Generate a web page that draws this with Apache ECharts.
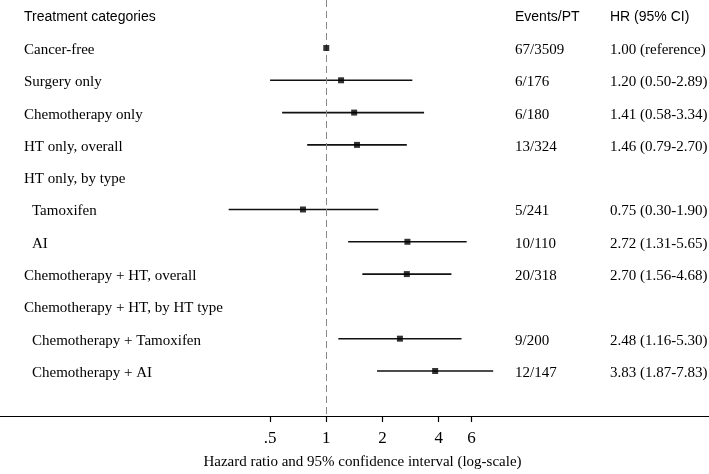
<!DOCTYPE html>
<html>
<head>
<meta charset="utf-8">
<script src="https://cdn.jsdelivr.net/npm/echarts@6/dist/echarts.min.js"></script>
<style>
  html, body { margin: 0; padding: 0; background: #fff; }
  #forest { width: 709px; height: 474px; }
</style>
</head>
<body>
<div id="forest"></div>
<script>
// rows of the forest plot (row 0 is the header)
var categories = ['Cancer-free', 'Surgery only', 'Chemotherapy only', 'HT only, overall',
    'HT only, by type', 'Tamoxifen', 'AI', 'Chemotherapy + HT, overall',
    'Chemotherapy + HT, by HT type', 'Chemotherapy + Tamoxifen', 'Chemotherapy + AI'];
var indented = [false, false, false, false, false, true, true, false, false, true, true];
var events = ['67/3509', '6/176', '6/180', '13/324', '', '5/241', '10/110', '20/318', '', '9/200', '12/147'];
var hrText = ['1.00 (reference)', '1.20 (0.50-2.89)', '1.41 (0.58-3.34)', '1.46 (0.79-2.70)', '',
    '0.75 (0.30-1.90)', '2.72 (1.31-5.65)', '2.70 (1.56-4.68)', '', '2.48 (1.16-5.30)', '3.83 (1.87-7.83)'];
var hr = [1.00, 1.20, 1.41, 1.46, null, 0.75, 2.72, 2.70, null, 2.48, 3.83];
var ciLow = [null, 0.50, 0.58, 0.79, null, 0.30, 1.31, 1.56, null, 1.16, 1.87];
var ciHigh = [null, 2.89, 3.34, 2.70, null, 1.90, 5.65, 4.68, null, 5.30, 7.83];
var headers = ['Treatment categories', 'Events/PT', 'HR (95% CI)'];
var tickValues = [0.5, 1, 2, 4, 6];
var tickLabels = ['.5', '1', '2', '4', '6'];

var serif = '"Liberation Serif", "Times New Roman", serif';
var sans = '"Liberation Sans", Arial, sans-serif';
var colX = [24, 515, 610];

var log2 = function (v) { return Math.log(v) / Math.LN2; };

var pointData = [], ciData = [], textData = [];
for (var i = 0; i < categories.length; i++) {
    var row = i + 1;
    textData.push([row, i]);
    if (hr[i] != null) pointData.push([log2(hr[i]), row]);
    if (ciLow[i] != null) ciData.push([log2(ciLow[i]), log2(ciHigh[i]), row]);
}

var myChart = echarts.init(document.getElementById('forest'));
var option = {
    animation: false,
    grid: { left: 0, right: 0, top: 0, bottom: 58, outerBoundsMode: 'none', containLabel: false },
    xAxis: {
        type: 'value',
        min: -5.806,
        max: 6.81,
        splitLine: { show: false },
        axisLine: { show: true, onZero: false, lineStyle: { color: '#000', width: 1.2 } },
        axisTick: {
            show: true, length: 6, lineStyle: { color: '#000', width: 1.2 },
            customValues: tickValues.map(log2)
        },
        axisLabel: {
            customValues: tickValues.map(log2),
            margin: 14,
            fontFamily: serif, fontSize: 17, color: '#000',
            formatter: function (v) {
                for (var k = 0; k < tickValues.length; k++) {
                    if (Math.abs(log2(tickValues[k]) - v) < 1e-6) return tickLabels[k];
                }
                return '';
            }
        },
        name: 'Hazard ratio and 95% confidence interval (log-scale)',
        nameLocation: 'middle',
        nameGap: 39,
        nameTextStyle: { fontFamily: serif, fontSize: 15, color: '#000', padding: [0, 0, 0, 16] }
    },
    yAxis: {
        type: 'value',
        inverse: true,
        min: -0.486,
        max: 12.394,
        show: false
    },
    series: [{
        type: 'custom',
        name: 'ci',
        data: ciData,
        renderItem: function (params, api) {
            var a = api.coord([api.value(0), api.value(2)]);
            var b = api.coord([api.value(1), api.value(2)]);
            return {
                type: 'line',
                shape: { x1: a[0], y1: a[1], x2: b[0], y2: b[1] },
                style: { stroke: '#111', lineWidth: 1.6 }
            };
        },
        markLine: {
            silent: true,
            symbol: 'none',
            label: { show: false },
            lineStyle: { color: '#888', width: 1, type: [7, 4] },
            data: [{ xAxis: 0 }]
        }
    }, {
        type: 'scatter',
        name: 'hr',
        data: pointData,
        symbol: 'rect',
        symbolSize: 6,
        itemStyle: { color: '#000' },
        z: 5
    }, {
        type: 'custom',
        name: 'text',
        data: textData,
        renderItem: function (params, api) {
            var i = api.value(1);
            var y = api.coord([0, api.value(0)])[1] + 2;
            var yHead = api.coord([0, 0])[1] + 1;
            var kids = [
                { type: 'text', x: colX[0] + (indented[i] ? 8 : 0), y: y,
                  style: { text: categories[i], font: '15px ' + serif, fill: '#000', verticalAlign: 'middle' } },
                { type: 'text', x: colX[1], y: y,
                  style: { text: events[i], font: '15px ' + serif, fill: '#000', verticalAlign: 'middle' } },
                { type: 'text', x: colX[2], y: y,
                  style: { text: hrText[i], font: '15px ' + serif, fill: '#000', verticalAlign: 'middle' } }
            ];
            if (params.dataIndex === 0) {
                for (var h = 0; h < headers.length; h++) {
                    kids.push({ type: 'text', x: colX[h], y: yHead,
                        style: { text: headers[h], font: '14px ' + sans, fill: '#000', verticalAlign: 'middle' } });
                }
            }
            return { type: 'group', children: kids };
        }
    }]
};

option && myChart.setOption(option);
</script>
</body>
</html>
